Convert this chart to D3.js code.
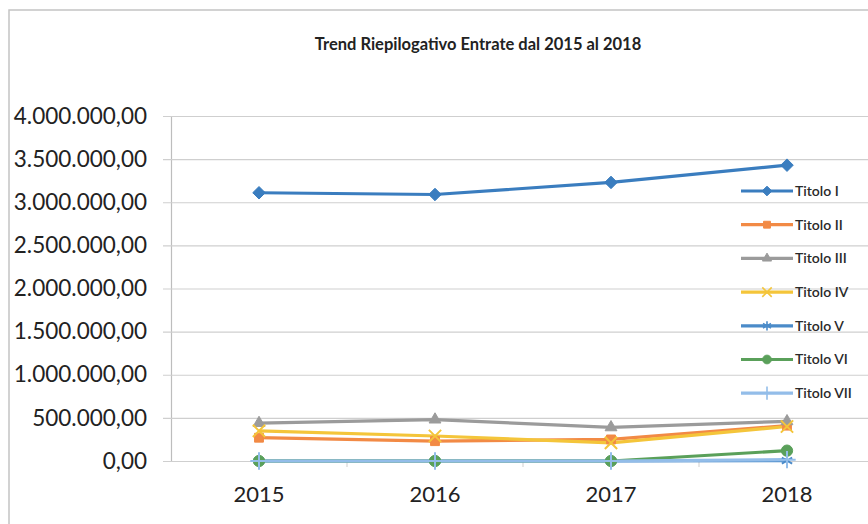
<!DOCTYPE html>
<html>
<head>
<meta charset="utf-8">
<script src="https://cdn.jsdelivr.net/npm/d3@7"></script>
<style>
  body { margin: 0; background: #fff; }
  svg { display: block; }
  .tick-label { font-family: Lato, "Open Sans", sans-serif; fill: #222; }
</style>
</head>
<body>
<div id="chart"></div>
<script>
// data
var years = ["2015", "2016", "2017", "2018"];
var seriesNames = ["Titolo I", "Titolo II", "Titolo III", "Titolo IV", "Titolo V", "Titolo VI", "Titolo VII"];
var titoloI   = [3110000, 3090000, 3230000, 3430000];
var titoloII  = [270000, 230000, 250000, 410000];
var titoloIII = [440000, 480000, 390000, 460000];
var titoloIV  = [350000, 290000, 210000, 400000];
var titoloV   = [0, 0, 0, 5000];
var titoloVI  = [0, 0, 0, 120000];
var titoloVII = [0, 0, 0, 15000];
var yTicks = [0, 500000, 1000000, 1500000, 2000000, 2500000, 3000000, 3500000, 4000000];

var colors = ["#3a7dbf", "#f28a45", "#9b9b9b", "#f4c53a", "#4b8bc9", "#5aa05a", "#93bde9"];
var markers = [d3.symbolDiamond2, d3.symbolSquare2, d3.symbolTriangle2, d3.symbolX, d3.symbolAsterisk, d3.symbolCircle, d3.symbolPlus];
var allValues = [titoloI, titoloII, titoloIII, titoloIV, titoloV, titoloVI, titoloVII];

var series = seriesNames.map(function(name, i){
    return {name: name, color: colors[i], marker: markers[i],
            values: years.map(function(y, j){ return {year: y, value: allValues[i][j]}; })};
});

var width = 868, height = 524;
var margin = {top: 116, left: 171, bottom: 63};

var svg = d3.select("#chart").append("svg")
    .attr("width", width)
    .attr("height", height);

// outer frame of the chart
svg.append("rect")
    .attr("x", 9).attr("y", 10)
    .attr("width", 900).attr("height", 600)
    .attr("fill", "none")
    .attr("stroke", "#c4c4c4")
    .attr("stroke-width", 1.5);

// title
svg.append("text")
    .attr("x", 478).attr("y", 50)
    .attr("text-anchor", "middle")
    .style("font-family", "Lato, 'Open Sans', sans-serif")
    .style("font-weight", "bold")
    .style("font-size", "16.5px")
    .style("fill", "#222")
    .text("Trend Riepilogativo Entrate dal 2015 al 2018");

var x = d3.scaleBand()
    .domain(years)
    .range([margin.left, margin.left + 4 * 176]);

var y = d3.scaleLinear()
    .domain([0, 4000000])
    .range([height - margin.bottom, margin.top]);

var itFormat = d3.formatLocale({decimal: ",", thousands: ".", grouping: [3], currency: ["", "€"]}).format(",.2f");

// y axis with gridlines
var yAxis = svg.append("g")
    .attr("transform", "translate(" + margin.left + ",0)")
    .call(d3.axisLeft(y).tickValues(yTicks).tickFormat(itFormat).tickSizeInner(8).tickSizeOuter(0).tickPadding(16));
yAxis.select(".domain").attr("stroke", "#bdbdbd").attr("stroke-width", 1.2);
yAxis.selectAll(".tick line")
    .attr("x1", -8).attr("x2", width - margin.left)
    .attr("stroke", "#cfcfcf").attr("stroke-width", 1.2);
yAxis.selectAll(".tick text")
    .attr("class", "tick-label")
    .style("font-size", "22.5px");

// x axis: ticks sit between the categories
var xAxis = svg.append("g")
    .attr("transform", "translate(0," + y(0) + ")");
xAxis.selectAll("line.sep")
    .data(years.slice(1))
    .enter().append("line")
    .attr("x1", function(d){ return x(d); })
    .attr("x2", function(d){ return x(d); })
    .attr("y1", 0).attr("y2", 6)
    .attr("stroke", "#cfcfcf");
xAxis.selectAll("text")
    .data(years)
    .enter().append("text")
    .attr("class", "tick-label")
    .attr("x", function(d){ return x(d) + x.bandwidth() / 2; })
    .attr("y", 41)
    .attr("text-anchor", "middle")
    .style("font-size", "22px")
    .text(function(d){ return d; });

var line = d3.line()
    .x(function(d){ return x(d.year) + x.bandwidth() / 2; })
    .y(function(d){ return y(d.value); });

// lines first, then markers on top
svg.selectAll("path.series")
    .data(series)
    .enter().append("path")
    .attr("class", "series")
    .attr("d", function(d){ return line(d.values); })
    .attr("fill", "none")
    .attr("stroke", function(d){ return d.color; })
    .attr("stroke-width", 3.2)
    .attr("stroke-linejoin", "round");

function markerPath(s, size){
    return d3.symbol().type(s.marker).size(size)();
}
function isStroked(s){
    return s.marker === d3.symbolX || s.marker === d3.symbolAsterisk || s.marker === d3.symbolPlus;
}

series.forEach(function(s){
    svg.selectAll(null)
        .data(s.values)
        .enter().append("path")
        .attr("transform", function(d){ return "translate(" + (x(d.year) + x.bandwidth() / 2) + "," + y(d.value) + ")"; })
        .attr("d", markerPath(s, 100))
        .attr("fill", isStroked(s) ? "none" : s.color)
        .attr("stroke", s.color)
        .attr("stroke-width", isStroked(s) ? 2 : 1);
});

// legend on the right
var legend = svg.append("g");
var rows = legend.selectAll("g")
    .data(series)
    .enter().append("g")
    .attr("transform", function(d, i){ return "translate(741," + (191 + i * 33.7) + ")"; });
rows.append("line")
    .attr("x1", 0).attr("x2", 52)
    .attr("stroke", function(d){ return d.color; })
    .attr("stroke-width", 3.2);
rows.append("path")
    .attr("transform", "translate(26,0)")
    .attr("d", function(d){ return markerPath(d, 60); })
    .attr("fill", function(d){ return isStroked(d) ? "none" : d.color; })
    .attr("stroke", function(d){ return d.color; })
    .attr("stroke-width", function(d){ return isStroked(d) ? 1.6 : 1; });
rows.append("text")
    .attr("x", 54).attr("y", 0).attr("dy", "0.35em")
    .style("font-family", "Lato, 'Open Sans', sans-serif")
    .style("font-size", "14px")
    .style("font-weight", "600")
    .style("fill", "#2a2a2a")
    .text(function(d){ return d.name; });
</script>
</body>
</html>
